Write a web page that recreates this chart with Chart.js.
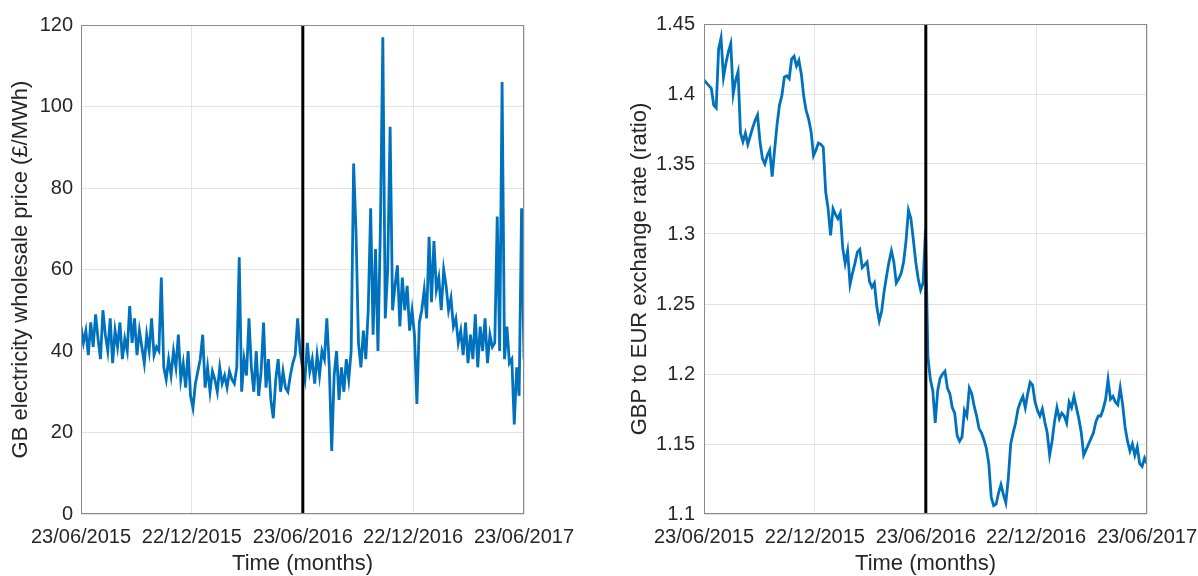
<!DOCTYPE html>
<html>
<head>
<meta charset="utf-8">
<script src="https://cdn.jsdelivr.net/npm/chart.js@4.4.1/dist/chart.umd.min.js"></script>
<style>
  body { margin: 0; background: #fff; }
  .panel { position: absolute; top: 0; height: 576px; }
  #left { left: 0; width: 600px; }
  #right { left: 600px; width: 598px; }
</style>
</head>
<body>
<div class="panel" id="left"><canvas id="priceChart"></canvas></div>
<div class="panel" id="right"><canvas id="rateChart"></canvas></div>
<script>
// days since 23/06/2015, samples roughly every 4 days
const spanDays = 731;
const brexitDay = 366;
const tickDays = [0, 183, 366, 548, 731];
const tickLabels = ['23/06/2015', '22/12/2015', '23/06/2016', '22/12/2016', '23/06/2017'];

const priceTicks = [0, 20, 40, 60, 80, 100, 120];
const rateTicks = [1.1, 1.15, 1.2, 1.25, 1.3, 1.35, 1.4, 1.45];

// GB electricity wholesale price (£/MWh)
const priceValues = [
  46, 42, 45, 39, 47, 41, 49, 43, 38, 50,
  44, 40, 48, 37, 45, 41, 47, 38, 43, 40,
  51, 42, 48, 39, 45, 41, 37, 44, 40, 48,
  39, 41, 40, 58, 36, 33, 38, 34, 40, 36,
  44, 33, 37, 31, 40, 29, 26, 32, 35, 38,
  44, 31, 36, 30, 35, 33, 30, 36, 32, 34,
  31, 35, 33, 32, 36, 63, 30, 38, 34, 48,
  36, 30, 40, 29, 35, 47, 31, 38, 28, 23.5,
  33, 38, 30, 35, 31, 30, 34, 37, 39, 48,
  40, 36, 33, 42, 35, 38, 32, 39, 34, 40,
  38, 48, 36, 15.5, 34, 40, 28, 36, 30, 38,
  33, 40, 86, 69, 42, 36, 45, 38, 50, 75,
  44, 65, 40, 70, 117, 48, 60, 95, 50, 56,
  61, 46, 58, 50, 56, 45, 50, 44, 27, 47,
  50, 55, 48, 68, 52, 67, 55, 58, 50, 60,
  56, 50, 53, 46, 48, 42, 45, 39, 47, 37,
  44, 38, 49, 36, 46, 40, 48, 37, 44, 41,
  42, 73, 40, 106, 38, 46, 37, 38, 22, 36,
  29, 75, 38
];

// GBP to EUR exchange rate
const rateValues = [
  1.410, 1.408, 1.406, 1.404, 1.392, 1.390, 1.432, 1.440, 1.412, 1.422,
  1.430, 1.436, 1.400, 1.410, 1.416, 1.372, 1.366, 1.372, 1.364, 1.370,
  1.376, 1.381, 1.385, 1.366, 1.354, 1.350, 1.356, 1.360, 1.341, 1.360,
  1.378, 1.392, 1.399, 1.412, 1.413, 1.411, 1.425, 1.427, 1.420, 1.424,
  1.414, 1.398, 1.388, 1.382, 1.373, 1.356, 1.360, 1.365, 1.364, 1.362,
  1.330, 1.318, 1.299, 1.318, 1.314, 1.311, 1.315, 1.290, 1.279, 1.288,
  1.264, 1.272, 1.279, 1.287, 1.289, 1.276, 1.278, 1.280, 1.266, 1.262,
  1.265, 1.248, 1.238, 1.245, 1.259, 1.270, 1.280, 1.288, 1.280, 1.265,
  1.268, 1.272, 1.280, 1.295, 1.317, 1.311, 1.296, 1.280, 1.268, 1.260,
  1.265, 1.303, 1.212, 1.196, 1.188, 1.165, 1.188, 1.197, 1.200, 1.202,
  1.190, 1.186, 1.176, 1.172, 1.156, 1.152, 1.155, 1.174, 1.170, 1.190,
  1.186, 1.177, 1.170, 1.161, 1.158, 1.153, 1.147, 1.136, 1.112, 1.106,
  1.107, 1.115, 1.121, 1.114, 1.108, 1.125, 1.150, 1.158, 1.165, 1.175,
  1.180, 1.184, 1.176, 1.186, 1.194, 1.192, 1.180, 1.174, 1.170, 1.175,
  1.166, 1.158, 1.142, 1.152, 1.166, 1.176, 1.168, 1.172, 1.170, 1.165,
  1.180, 1.176, 1.184, 1.176, 1.168, 1.158, 1.142, 1.146, 1.150, 1.154,
  1.158, 1.166, 1.170, 1.170, 1.175, 1.182, 1.196, 1.182, 1.184, 1.180,
  1.178, 1.190, 1.178, 1.162, 1.152, 1.145, 1.150, 1.142, 1.148, 1.136,
  1.134, 1.140, 1.136
];

const blue = '#0072BD';
const textColor = '#262626';
const fontFamily = "'Liberation Sans', Arial, sans-serif";

function toPoints(values) {
  const step = spanDays / (values.length - 1);
  return values.map((v, i) => ({ x: i * step, y: v }));
}

// MATLAB-style box round the plot area
const boxPlugin = {
  id: 'box',
  afterDraw(chart) {
    const a = chart.chartArea;
    const ctx = chart.ctx;
    ctx.save();
    ctx.strokeStyle = '#8a8a8a';
    ctx.lineWidth = 1;
    ctx.strokeRect(a.left + 0.5, a.top + 0.5, a.right - a.left - 1, a.bottom - a.top - 1);
    ctx.restore();
  }
};

function makeChart(id, values, yTicks, yTitle, opts) {
  const yMin = yTicks[0];
  const yMax = yTicks[yTicks.length - 1];
  return new Chart(document.getElementById(id), {
    type: 'line',
    data: {
      datasets: [
        {
          data: [{ x: brexitDay, y: yMin }, { x: brexitDay, y: yMax }],
          borderColor: '#000',
          borderWidth: 3,
          pointRadius: 0,
          order: 0
        },
        {
          data: toPoints(values),
          borderColor: blue,
          borderWidth: 2.8,
          pointRadius: 0,
          tension: 0,
          order: 1
        }
      ]
    },
    options: {
      responsive: true,
      maintainAspectRatio: false,
      animation: false,
      layout: { padding: opts.padding },
      plugins: {
        legend: { display: false },
        tooltip: { enabled: false }
      },
      scales: {
        x: {
          type: 'linear',
          min: 0,
          max: spanDays,
          afterBuildTicks: s => { s.ticks = tickDays.map(v => ({ value: v })); },
          afterFit: s => { s.height = 62; s.paddingLeft = 0; s.paddingRight = 0; },
          border: { display: false },
          grid: { color: '#e3e3e3', drawTicks: false },
          ticks: {
            autoSkip: false,
            maxRotation: 0,
            padding: 11,
            color: textColor,
            font: { family: fontFamily, size: 20 },
            callback: (v, i) => tickLabels[i]
          },
          title: {
            display: true,
            text: 'Time (months)',
            color: textColor,
            padding: { top: 0, bottom: -1 },
            font: { family: fontFamily, size: 22 }
          }
        },
        y: {
          min: yMin,
          max: yMax,
          afterBuildTicks: s => { s.ticks = yTicks.map(v => ({ value: v })); },
          afterFit: s => { s.width = opts.yWidth; },
          border: { display: false },
          grid: { color: '#e3e3e3', drawTicks: false },
          ticks: {
            padding: opts.tickPad,
            color: textColor,
            font: { family: fontFamily, size: 20 },
            callback: (v, i) => String(yTicks[i])
          },
          title: {
            display: true,
            text: yTitle,
            color: textColor,
            padding: { top: opts.titlePad, bottom: 0 },
            font: { family: fontFamily, size: 22 }
          }
        }
      }
    },
    plugins: [boxPlugin]
  });
}

makeChart('priceChart', priceValues, priceTicks, 'GB electricity wholesale price (£/MWh)',
  { padding: { left: 0, top: 25, right: 76, bottom: 0 }, yWidth: 81, tickPad: 8, titlePad: 8 });

makeChart('rateChart', rateValues, rateTicks, 'GBP to EUR exchange rate (ratio)',
  { padding: { left: 20, top: 24, right: 51, bottom: 0 }, yWidth: 84, tickPad: 9, titlePad: 7 });
</script>
</body>
</html>
